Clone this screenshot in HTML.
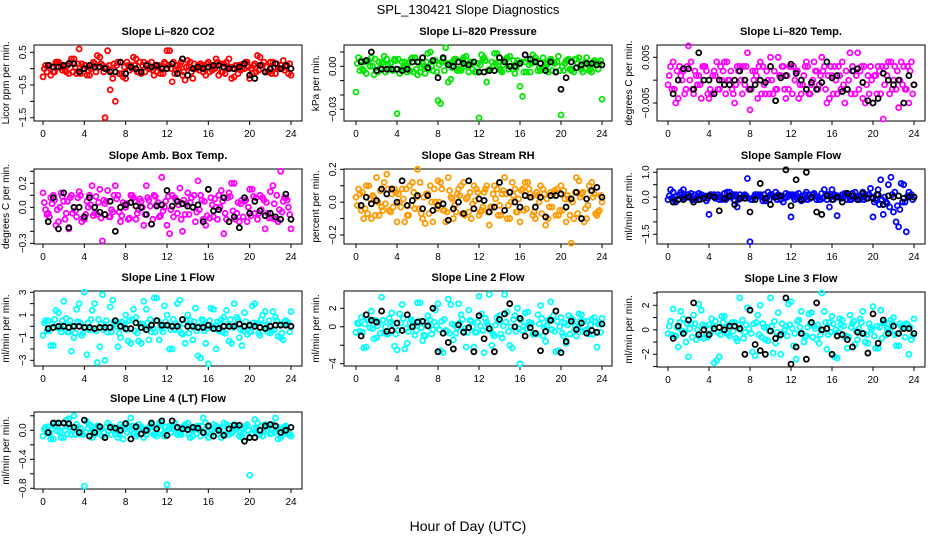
<!DOCTYPE html>
<html><head><meta charset="utf-8"><style>
body{margin:0;background:#fff}
svg{display:block;font-family:"Liberation Sans",sans-serif}
</style></head><body>
<svg id="c" width="936" height="540" viewBox="0 0 936 540">
<text x="468" y="14" text-anchor="middle" font-size="13">SPL_130421  Slope Diagnostics</text>
<text x="468" y="531" text-anchor="middle" font-size="14">Hour of Day (UTC)</text>
</svg>
<script>
const hrsA=[0,0.5,1,1.5,2,2.5,3,3.5,4,4.5,5,5.5,6,6.5,7,7.5,8,8.5,9,9.5,10,10.5,11,11.5,12,12.5,13,13.5,14,14.5,15,15.5,16,16.5,17,17.5,18,18.5,19,19.5,20,20.5,21,21.5,22,22.5,23,23.5,24];
const hrsB=[0.25,0.75,1.25,1.75,2.25,2.75,3.25,3.75,4.25,4.75,5.25,5.75,6.25,6.75,7.25,7.75,8.25,8.75,9.25,9.75,10.25,10.75,11.25,11.75,12.25,12.75,13.25,13.75,14.25,14.75,15.25,15.75,16.25,16.75,17.25,17.75,18.25,18.75,19.25,19.75,20.25,20.75,21.25,21.75,22.25,22.75,23.25,23.75];
const hrsC=[0.125,0.625,1.125,1.625,2.125,2.625,3.125,3.625,4.125,4.625,5.125,5.625,6.125,6.625,7.125,7.625,8.125,8.625,9.125,9.625,10.125,10.625,11.125,11.625,12.125,12.625,13.125,13.625,14.125,14.625,15.125,15.625,16.125,16.625,17.125,17.625,18.125,18.625,19.125,19.625,20.125,20.625,21.125,21.625,22.125,22.625,23.125,23.625];
const hrsD=[0.375,0.875,1.375,1.875,2.375,2.875,3.375,3.875,4.375,4.875,5.375,5.875,6.375,6.875,7.375,7.875,8.375,8.875,9.375,9.875,10.375,10.875,11.375,11.875,12.375,12.875,13.375,13.875,14.375,14.875,15.375,15.875,16.375,16.875,17.375,17.875,18.375,18.875,19.375,19.875,20.375,20.875,21.375,21.875,22.375,22.875,23.375,23.875];
const xTicks=[0,4,8,12,16,20,24];

const co2A=[-0.25,0.1,-0.1,0.2,0.05,-0.15,0.3,0.6,0.1,-0.2,0.15,0.35,-1.5,-0.65,-1.0,0.2,-0.3,0.1,0.3,-0.15,0.1,0.2,-0.1,0.05,0.55,-0.4,0.1,-0.2,0.25,-0.3,0.1,-0.1,0.2,0.05,-0.2,0.15,0.3,-0.25,0.1,0.0,-0.3,0.15,0.35,-0.1,0.2,-0.15,0.1,0.05,-0.2];
const co2B=[0.1,-0.2,0.2,0.05,-0.1,0.3,-0.15,0.15,-0.2,0.1,0.4,0.1,0.55,-0.3,0.2,-0.25,0.1,0.35,-0.1,0.2,0.0,-0.2,0.1,0.2,0.55,-0.15,0.1,-0.35,0.2,0.0,0.15,-0.2,0.1,0.3,-0.1,0.2,-0.3,0.1,0.0,0.2,-0.15,0.4,0.1,-0.1,0.2,0.0,0.25,-0.15];
const co2C=[0.0,0.1,-0.1,0.15,-0.05,0.2,0.05,-0.15,0.1,0.0,-0.1,0.15,0.05,-0.05,0.1,-0.15,0.2,0.0,-0.1,0.1,0.15,-0.05,0.05,-0.15,0.1,0.2,0.0,-0.1,0.05,0.15,-0.05,0.1,-0.1,0.0,0.15,-0.15,0.05,0.1,-0.05,0.2,0.0,-0.1,0.1,0.05,-0.15,0.15,0.0,0.1];
const co2D=[-0.1,0.05,0.2,-0.05,0.1,-0.1,0.15,0.0,-0.05,0.2,0.05,-0.1,0.1,0.15,-0.15,0.05,-0.05,0.1,0.2,-0.1,0.0,0.1,-0.15,0.15,0.0,-0.05,0.2,0.05,-0.1,0.0,0.1,0.15,-0.05,0.2,-0.1,0.05,0.0,-0.15,0.15,0.05,0.1,-0.05,0.2,-0.1,0.05,0.0,-0.05,0.15];
const co2K=[0.0,0.1,0.05,0.05,0.1,0.15,0.15,-0.1,0.0,0.1,0.05,0.05,0.0,-0.1,-0.1,0.2,-0.15,0.05,0.0,-0.1,0.1,0.05,0.1,0.0,0.0,0.15,-0.15,0.3,-0.2,0.0,0.05,0.0,0.05,0.1,0.1,0.05,0.0,0.0,0.05,0.15,-0.2,-0.3,0.1,-0.1,0.0,0.15,0.0,0.1,0.0];

const presA=[-0.018,0.004,-0.005,0.006,-0.003,0.002,0.005,-0.002,-0.033,0.003,-0.004,0.006,-0.006,0.002,0.009,-0.003,-0.024,0.005,-0.011,0.004,-0.002,0.006,-0.004,0.003,-0.036,0.006,-0.003,0.009,-0.002,0.004,0.007,-0.005,-0.014,0.003,-0.004,0.006,-0.003,0.002,0.005,-0.004,-0.034,0.004,-0.003,0.005,-0.002,0.006,-0.004,0.003,-0.023];
const presB=[0.006,-0.003,0.004,-0.006,0.003,0.007,-0.002,0.005,-0.005,0.003,-0.003,0.006,-0.004,-0.005,0.01,0.004,-0.026,0.013,-0.009,0.005,-0.003,0.007,0.002,-0.004,0.008,-0.011,0.003,0.009,-0.004,0.006,-0.002,0.004,-0.021,0.005,0.008,-0.003,0.006,-0.004,0.003,0.007,-0.003,0.005,-0.004,0.006,0.002,-0.003,0.004,0.002];
const presC=[0.002,-0.002,0.004,0.0,-0.004,0.003,0.001,-0.003,0.005,-0.001,0.002,-0.004,0.003,0.0,-0.002,0.004,0.001,-0.003,0.002,0.005,-0.002,0.0,0.003,-0.004,0.001,0.004,-0.002,0.002,-0.003,0.005,0.0,-0.001,0.003,-0.004,0.002,0.004,-0.002,0.001,-0.003,0.003,0.0,0.004,-0.002,0.002,-0.004,0.001,0.003,-0.002];
const presD=[-0.003,0.003,0.0,0.005,-0.001,-0.004,0.002,0.004,-0.002,0.001,0.005,-0.002,-0.001,0.003,0.0,-0.004,0.003,0.002,-0.001,-0.003,0.004,0.001,-0.002,0.002,0.005,-0.003,0.0,0.003,0.001,-0.002,0.004,0.002,-0.004,0.001,0.003,-0.001,0.0,0.004,0.002,-0.003,0.002,-0.002,0.005,0.0,0.003,-0.002,0.001,0.004];
const presK=[0.000,0.003,0.004,0.010,-0.003,-0.002,-0.002,-0.002,-0.002,-0.003,-0.002,0.003,0.003,0.006,-0.001,0.004,-0.008,0.006,0.001,0.000,0.003,0.002,0.001,0.003,-0.004,-0.004,-0.003,-0.003,0.006,0.003,0.000,0.000,0.002,0.008,0.005,0.003,0.002,-0.003,0.003,-0.004,-0.016,-0.008,0.003,-0.001,0.001,0.002,0.002,0.001,0.001];

const tempA=[-0.001,0.004,-0.004,0.002,0.0075,-0.003,0.001,0.003,-0.004,0.002,-0.002,0.004,0.0,-0.005,0.003,-0.001,-0.0065,0.002,0.004,-0.003,0.005,-0.002,0.001,-0.004,0.003,0.002,-0.003,0.004,-0.001,0.002,0.005,-0.005,0.001,-0.003,0.004,-0.002,0.003,0.006,-0.004,0.001,-0.005,0.003,-0.0085,0.004,0.0,-0.006,0.003,-0.005,-0.001];
const tempB=[0.003,-0.005,0.001,-0.002,0.004,0.001,-0.004,0.002,-0.003,0.004,0.0,0.004,-0.002,0.003,-0.003,0.006,0.002,-0.004,0.003,0.0,-0.003,0.005,0.003,-0.002,0.003,-0.004,0.001,-0.003,0.004,-0.001,0.003,-0.004,0.003,0.001,-0.005,0.006,-0.003,0.002,-0.005,0.003,0.001,-0.003,0.003,0.004,-0.002,0.004,-0.002,0.004];
const tempC=[0.001,-0.002,0.003,-0.003,0.0,0.002,-0.001,0.003,-0.002,0.001,0.003,-0.003,0.002,-0.001,0.0,0.003,-0.002,0.001,-0.003,0.002,0.0,-0.002,0.003,0.001,-0.003,0.002,-0.001,0.003,0.0,-0.002,0.002,0.001,-0.003,0.003,-0.001,0.0,0.002,-0.002,0.003,-0.003,0.001,0.002,-0.001,-0.003,0.003,0.0,-0.002,0.002];
const tempD=[-0.002,0.002,0.0,0.003,-0.002,-0.001,0.003,-0.003,0.001,-0.002,0.002,0.0,-0.003,0.002,0.003,-0.002,0.0,0.003,-0.001,-0.003,0.002,0.001,-0.002,0.003,0.0,-0.001,0.003,-0.003,0.002,0.001,-0.002,0.003,0.0,-0.002,0.002,-0.003,0.001,0.003,-0.001,0.0,-0.003,0.003,0.001,-0.002,0.002,-0.001,0.003,-0.003];
const tempK=[0.0,-0.003,0.0,0.0025,0.0025,-0.002,0.006,0.0,0.0,-0.003,0.0,-0.001,-0.001,0.0,0.002,0.0,-0.002,-0.001,0.0,-0.0005,0.003,-0.0045,0.0005,0.001,0.0035,0.0015,0.0,-0.002,-0.0005,-0.002,-0.0005,0.004,0.0005,0.001,-0.0025,-0.002,0.002,0.0025,-0.0005,-0.0045,-0.005,-0.004,0.0015,0.0,-0.001,0.0,-0.005,0.001,-0.001];

const boxA=[0.12,-0.05,0.1,-0.12,0.05,-0.18,0.0,0.13,-0.1,0.1,-0.05,0.15,0.03,-0.08,0.18,-0.12,0.0,0.1,-0.1,0.05,0.18,-0.14,0.02,0.25,-0.15,0.1,-0.05,-0.2,0.12,0.0,0.22,-0.1,0.15,-0.08,0.1,-0.22,0.12,0.2,-0.12,0.05,0.15,-0.05,0.1,-0.18,0.13,-0.1,0.3,0.08,-0.18];
const boxB=[-0.02,0.08,-0.15,0.12,-0.05,0.1,-0.08,-0.12,0.05,0.18,-0.06,-0.28,0.14,-0.04,0.1,0.04,-0.1,0.08,-0.02,-0.15,0.06,0.1,-0.08,0.0,-0.22,0.08,0.16,-0.06,0.04,-0.12,0.1,-0.15,0.08,0.0,0.14,-0.1,0.2,-0.05,0.06,-0.12,0.15,-0.1,0.08,-0.05,0.18,-0.12,0.05,0.0];
const boxC=[0.04,-0.08,0.06,0.0,-0.1,0.08,-0.03,0.1,-0.06,0.02,0.09,-0.09,0.05,-0.02,0.07,-0.07,0.03,0.1,-0.05,0.0,0.08,-0.1,0.04,-0.03,0.09,-0.08,0.02,0.06,-0.06,0.1,-0.02,0.05,-0.09,0.07,0.0,-0.05,0.09,-0.1,0.03,0.06,-0.07,0.08,-0.02,0.04,-0.09,0.1,-0.04,0.06];
const boxD=[-0.06,0.03,-0.02,0.09,0.05,-0.05,0.08,-0.09,0.0,-0.07,0.04,0.06,-0.08,0.1,-0.04,0.02,-0.09,0.05,0.07,-0.06,0.01,0.09,-0.07,0.05,-0.02,0.06,-0.1,0.03,0.08,-0.04,0.06,-0.07,0.02,-0.1,0.05,0.08,-0.03,0.04,-0.08,0.0,0.09,-0.05,0.06,-0.09,0.03,-0.02,0.08,-0.06];
const boxK=[0.0,-0.12,0.08,-0.18,0.12,-0.17,0.0,0.0,-0.08,0.08,0.0,-0.04,-0.06,0.05,-0.2,0.0,0.02,0.04,0.01,0.0,-0.06,-0.14,0.01,0.02,0.14,0.01,0.05,0.03,0.01,0.0,0.02,-0.12,0.15,-0.03,-0.02,0.08,-0.12,-0.08,-0.17,0.08,-0.05,0.05,-0.03,-0.07,-0.05,-0.08,-0.1,0.11,-0.1];

const rhA=[0.03,-0.05,0.1,-0.1,0.15,-0.03,0.17,0.05,-0.12,0.08,-0.08,0.12,0.2,-0.1,0.05,-0.12,0.13,-0.05,0.15,-0.1,0.08,0.12,-0.06,0.1,-0.08,0.06,-0.14,0.1,-0.02,0.15,-0.1,0.08,-0.12,0.12,0.05,-0.1,0.1,-0.14,0.06,-0.08,0.1,-0.12,-0.25,0.15,0.05,-0.1,0.12,-0.08,0.0];
const rhB=[0.08,-0.1,0.1,0.03,-0.08,0.12,-0.05,0.08,0.0,-0.12,0.1,-0.04,0.12,-0.13,0.1,0.0,0.12,-0.12,0.03,-0.06,0.1,0.02,-0.1,0.08,-0.05,0.1,-0.03,0.08,0.05,-0.1,0.12,-0.06,0.08,0.12,-0.08,0.04,0.08,-0.1,0.05,-0.08,0.07,0.02,-0.1,0.13,-0.12,0.1,0.05,-0.05];
const rhC=[-0.02,0.06,-0.07,0.04,0.0,-0.05,0.08,-0.03,0.05,0.02,-0.08,0.06,-0.04,0.03,-0.07,0.08,0.0,-0.05,0.07,-0.02,0.04,-0.08,0.06,0.01,-0.06,0.08,-0.03,0.02,-0.08,0.05,0.0,-0.06,0.07,-0.04,0.03,0.06,-0.07,0.02,-0.03,0.08,-0.05,0.04,0.0,-0.07,0.06,-0.02,0.03,-0.06];
const rhD=[0.05,-0.04,0.02,-0.08,0.07,-0.01,-0.06,0.06,-0.03,0.08,-0.02,0.03,-0.07,0.05,0.0,-0.04,0.08,-0.06,0.02,0.05,-0.07,0.03,-0.01,0.06,-0.03,-0.06,0.05,-0.08,0.07,-0.02,0.04,0.02,-0.05,0.08,-0.06,0.0,0.05,-0.03,0.07,-0.05,0.02,-0.08,0.06,0.03,-0.04,0.07,-0.07,0.04];
const rhK=[0.0,-0.02,0.03,-0.01,0.01,0.08,0.05,0.08,0.0,0.13,-0.02,0.01,0.04,-0.04,0.04,-0.05,-0.02,-0.01,-0.11,-0.04,0.0,-0.07,0.13,-0.04,0.02,0.01,-0.06,-0.03,0.12,-0.05,0.06,0.0,-0.03,0.04,0.03,-0.03,0.03,-0.09,0.04,0.04,0.05,-0.03,0.02,0.06,-0.1,0.02,0.07,0.09,0.03];

const sfA=[-0.1,0.2,-0.1,0.3,0.1,-0.1,0.15,0.0,-0.7,0.1,-0.1,0.15,0.2,-0.15,0.1,0.1,-1.8,0.1,0.1,-0.15,0.1,0.2,-0.1,0.15,-0.8,0.1,-0.15,0.2,0.0,-0.1,0.15,-0.1,0.3,-0.75,0.1,-0.1,0.15,-0.1,0.2,0.1,-0.8,0.3,-0.7,0.5,-0.6,-1.2,0.5,0.2,0.0];
const sfB=[0.3,-0.2,0.2,0.0,0.15,-0.1,0.1,-0.15,0.1,0.0,-0.1,0.2,0.1,-0.4,0.0,0.75,-0.1,0.1,-0.15,0.2,0.05,0.1,-0.2,0.1,0.0,0.15,-0.1,0.1,0.15,-0.1,0.3,-0.4,0.1,0.0,0.15,-0.1,0.2,-0.1,0.1,0.35,-0.1,0.7,-0.2,0.8,-1.0,0.55,-1.4,0.1];
const sfC=[0.05,-0.1,0.1,-0.05,0.0,0.1,-0.1,0.05,0.1,-0.05,0.05,-0.1,0.0,0.1,-0.05,0.05,-0.1,0.1,0.0,-0.05,0.1,-0.1,0.05,0.0,0.1,-0.05,0.05,-0.1,0.1,0.0,-0.05,0.1,-0.1,0.05,0.0,0.1,-0.05,0.05,-0.1,0.1,-0.2,-0.3,0.0,-0.4,0.2,-0.5,-0.2,0.05];
const sfD=[-0.05,0.05,0.0,0.1,-0.1,0.05,0.0,-0.05,0.05,0.1,-0.05,0.0,0.1,-0.1,0.05,-0.05,0.0,0.05,0.1,-0.1,0.0,0.05,-0.05,0.1,-0.1,0.0,0.1,-0.05,0.05,-0.1,0.1,0.0,0.05,-0.05,0.1,-0.1,0.0,0.05,-0.05,0.0,0.1,-0.1,-0.25,0.1,-0.35,-0.2,0.05,-0.1];
const sfK=[0.0,-0.2,-0.1,-0.1,0.0,-0.2,-0.1,-0.05,0.05,0.0,-0.55,-0.05,0.05,-0.3,-0.05,-0.05,-0.6,-0.1,0.55,-0.05,-0.3,0.0,0.05,1.1,-0.35,0.7,-0.1,1.0,0.0,-0.6,-0.7,0.05,-0.1,0.0,-0.2,0.15,0.05,-0.1,0.15,-0.05,-0.05,0.1,-0.3,0.05,0.0,0.05,-0.05,0.0,0.0];

const l1A=[-0.8,0.5,-1.7,1.2,2.2,-0.5,-1.0,2.0,3.0,-0.3,2.0,-1.8,-3.0,1.7,0.2,-1.0,1.0,-1.5,0.8,-1.5,1.5,-0.5,2.5,-0.2,1.0,-2.0,2.0,-0.7,1.0,-1.2,-2.6,0.5,-3.3,1.5,-0.4,0.8,-1.3,2.0,-1.0,1.2,-0.5,2.0,-0.8,1.3,-0.6,0.8,-1.0,0.5,1.3];
const l1B=[0.5,-1.7,1.4,-0.5,0.7,-2.2,1.5,-0.8,-2.5,1.4,-3.2,2.8,-0.5,2.3,-1.8,0.3,-1.3,1.5,-1.3,2.2,-1.2,2.5,-1.2,1.8,-2.0,-0.3,2.3,-1.5,0.5,1.6,-2.8,-1.5,1.6,-2.0,0.6,1.4,-1.5,0.8,-1.7,-0.7,1.8,0.3,1.0,-0.5,1.3,-0.9,-1.2,0.3];
const l1C=[0.3,-0.4,0.6,-0.2,0.1,0.5,-0.6,0.3,-0.1,0.6,-0.4,0.2,0.5,-0.5,0.0,0.4,-0.3,0.6,-0.6,0.2,0.3,-0.2,0.5,-0.5,0.1,0.6,-0.3,0.2,-0.6,0.4,0.0,-0.4,0.5,-0.2,0.3,-0.6,0.6,0.1,-0.3,0.4,-0.5,0.2,0.6,-0.1,-0.4,0.5,-0.6,0.2];
const l1D=[-0.4,0.2,-0.1,0.5,-0.5,0.0,0.4,-0.6,0.3,-0.2,0.6,-0.3,-0.1,0.4,-0.6,0.1,0.5,-0.4,0.2,-0.1,0.6,-0.5,0.0,0.4,-0.3,0.2,-0.6,0.5,0.1,-0.4,0.6,-0.2,0.0,0.4,-0.5,0.2,-0.1,0.6,-0.4,0.0,0.3,-0.6,0.1,0.5,-0.3,0.2,0.4,-0.5];
const l1K=[0.0,-0.2,-0.1,0.0,0.0,-0.1,0.0,0.0,-0.1,-0.1,-0.2,-0.1,-0.1,-0.1,0.5,0.0,-0.2,-0.2,0.3,-0.1,-0.3,0.1,0.5,0.1,0.1,0.0,0.0,0.6,0.0,0.0,-0.1,-0.1,0.1,-0.2,-0.2,0.0,0.0,0.0,0.2,0.0,0.1,0.0,-0.1,-0.2,0.0,0.1,0.1,0.1,0.0];

const l2A=[-0.6,1.0,-2.2,1.7,-1.2,3.2,-0.8,1.5,-2.5,2.4,-1.8,0.6,2.6,-1.5,1.2,-0.3,2.5,-2.8,3.0,-1.4,2.5,-0.5,1.8,-2.2,3.3,-2.8,3.5,-1.0,1.2,3.5,-2.0,1.2,-4.0,1.5,0.3,-0.7,2.3,-1.6,2.7,-2.7,1.0,-1.8,0.9,-1.0,1.3,-0.3,0.8,-2.2,0.9];
const l2B=[0.3,-2.3,0.8,-1.3,0.5,-0.6,0.9,-2.1,1.4,-2.4,0.4,-0.9,2.6,-1.0,0.7,1.8,-2.6,-0.4,2.4,-0.7,1.3,-2.2,0.6,-0.6,1.4,0.5,-2.0,1.0,-1.2,1.6,-2.3,2.0,-0.4,1.6,-0.8,1.3,-1.0,0.7,1.2,-2.6,-1.0,1.2,-0.5,1.4,0.6,-0.8,1.0,0.3];
const l2C=[0.4,-0.6,0.8,-0.2,0.1,0.7,-0.8,0.3,-0.4,0.9,-0.5,0.2,0.6,-0.9,0.0,0.5,-0.3,0.8,-0.7,0.2,0.4,-0.2,0.7,-0.6,0.1,0.9,-0.4,0.2,-0.8,0.5,0.0,-0.5,0.7,-0.2,0.4,-0.8,0.9,0.1,-0.3,0.6,-0.7,0.2,0.8,-0.1,-0.5,0.6,-0.8,0.3];
const l2D=[-0.5,0.3,-0.1,0.7,-0.7,0.0,0.5,-0.8,0.4,-0.2,0.8,-0.4,-0.1,0.5,-0.8,0.1,0.6,-0.5,0.3,-0.1,0.8,-0.6,0.0,0.5,-0.4,0.2,-0.8,0.6,0.1,-0.5,0.8,-0.2,0.0,0.5,-0.7,0.3,-0.1,0.8,-0.5,0.0,0.4,-0.8,0.1,0.6,-0.4,0.2,0.5,-0.6];
const l2K=[0.0,-1.0,1.3,0.7,0.5,1.7,-0.5,-0.4,0.4,-0.4,1.3,0.0,0.5,0.6,0.1,2.0,-2.7,-0.7,-1.7,-2.4,0.2,-0.6,-0.1,-2.7,1.2,-1.3,-0.2,-2.7,0.8,1.4,2.5,0.0,0.9,-1.0,-0.1,-0.7,-2.6,-0.5,0.7,1.7,-2.8,-1.6,0.6,-0.3,0.4,-0.7,-0.4,-0.6,0.3];

const l3A=[-0.3,1.7,-1.4,0.9,-2.2,1.2,2.1,-0.7,0.4,-2.7,-2.2,1.1,-0.5,0.6,2.6,-0.2,1.6,-2.1,2.0,-0.8,2.6,-1.1,-2.0,0.3,2.3,-2.4,1.5,-0.5,1.4,-0.8,3.0,-1.6,1.1,-2.3,0.8,-1.5,0.5,-0.8,1.5,-1.1,1.9,-1.5,0.6,0.1,1.0,-1.3,0.3,-2.0,0.9];
const l3B=[0.7,-0.5,1.5,-1.0,0.5,-0.8,1.6,-0.4,0.9,-2.5,1.1,-0.3,0.6,-0.9,0.8,1.8,-1.8,1.2,0.5,-0.9,-1.9,1.4,-0.3,2.1,-1.3,0.8,-1.0,1.3,0.3,-1.1,1.5,0.6,-2.2,0.9,-0.6,1.2,-1.2,0.9,-1.0,0.2,-1.5,1.6,-0.4,0.8,-1.3,0.3,0.5,-0.8];
const l3C=[0.3,-0.5,0.6,-0.2,0.1,0.5,-0.6,0.3,-0.3,0.7,-0.4,0.2,0.5,-0.7,0.0,0.4,-0.3,0.6,-0.6,0.2,0.3,-0.2,0.5,-0.5,0.1,0.7,-0.3,0.2,-0.6,0.4,0.0,-0.4,0.5,-0.2,0.3,-0.6,0.7,0.1,-0.3,0.5,-0.5,0.2,0.6,-0.1,-0.4,0.5,-0.6,0.2];
const l3D=[-0.4,0.2,-0.1,0.5,-0.6,0.0,0.4,-0.6,0.3,-0.2,0.6,-0.3,-0.1,0.4,-0.7,0.1,0.5,-0.4,0.2,-0.1,0.7,-0.5,0.0,0.4,-0.3,0.2,-0.6,0.5,0.1,-0.4,0.6,-0.2,0.0,0.4,-0.5,0.2,-0.1,0.6,-0.4,0.0,0.3,-0.7,0.1,0.5,-0.3,0.2,0.4,-0.5];
const l3K=[0.0,-0.7,0.3,-0.3,0.8,2.2,-0.4,0.0,-0.4,0.1,0.2,0.0,0.3,0.3,0.1,-2.0,1.6,-1.2,-1.7,-2.0,-0.1,-0.7,-0.4,2.6,-2.8,-1.4,-0.3,-2.4,0.6,2.2,0.0,0.1,-2.0,-0.5,-0.4,-0.8,-1.4,-0.2,-0.3,-1.9,1.3,-1.1,0.8,-0.3,0.3,-0.3,0.1,0.1,-0.3];

const l4A=[-0.08,0.05,-0.12,0.1,-0.1,0.16,0.2,-0.05,-0.77,0.08,-0.06,0.04,-0.1,0.06,-0.05,0.08,0.1,0.17,-0.08,0.05,-0.06,0.08,-0.08,0.1,-0.75,0.07,-0.06,0.05,0.1,-0.08,0.06,0.17,-0.1,0.08,-0.05,0.1,-0.06,0.08,-0.08,0.05,-0.62,0.15,-0.06,0.08,-0.05,0.17,-0.1,0.06,-0.08];
const l4B=[0.04,-0.12,0.1,-0.1,0.14,-0.06,0.08,-0.04,0.12,-0.1,0.06,-0.08,0.1,0.04,-0.1,-0.12,0.06,-0.04,0.08,-0.1,0.04,-0.06,0.1,-0.08,0.06,0.1,-0.05,0.08,-0.1,0.05,-0.08,0.1,-0.06,0.06,-0.1,0.08,-0.04,0.05,-0.1,0.08,-0.05,0.1,-0.08,0.06,0.08,-0.12,0.04,-0.06];
const l4C=[0.02,-0.04,0.06,-0.02,0.0,0.05,-0.06,0.03,-0.03,0.06,-0.04,0.02,0.05,-0.06,0.0,0.04,-0.03,0.06,-0.05,0.02,0.03,-0.02,0.05,-0.05,0.01,0.06,-0.03,0.02,-0.06,0.04,0.0,-0.04,0.05,-0.02,0.03,-0.06,0.06,0.01,-0.03,0.05,-0.05,0.02,0.06,-0.01,-0.04,0.05,-0.06,0.02];
const l4D=[-0.04,0.02,-0.01,0.05,-0.05,0.0,0.04,-0.06,0.03,-0.02,0.06,-0.03,-0.01,0.04,-0.06,0.01,0.05,-0.04,0.02,-0.01,0.06,-0.05,0.0,0.04,-0.03,0.02,-0.06,0.05,0.01,-0.04,0.06,-0.02,0.0,0.04,-0.05,0.02,-0.01,0.06,-0.04,0.0,0.03,-0.06,0.01,0.05,-0.03,0.02,0.04,-0.05];
const l4K=[0.0,-0.03,0.1,0.1,0.1,0.09,0.04,-0.03,0.14,-0.08,-0.03,0.05,-0.1,0.04,0.03,0.0,0.09,-0.12,0.05,-0.05,0.0,0.1,0.02,0.13,-0.07,0.13,0.04,0.02,0.01,0.04,0.03,-0.03,0.06,-0.08,0.0,-0.07,0.02,0.07,0.07,-0.15,-0.1,-0.1,0.0,0.06,0.08,0.06,-0.03,0.0,0.04];

const co2Ticks=[0.5,0,-0.5,-1,-1.5], co2Labels=["0.5","","−0.5","","−1.5"];
const presTicks=[0.01,0,-0.01,-0.02,-0.03], presLabels=["","0.00","","","−0.03"];
const tempTicks=[0.005,0,-0.005], tempLabels=["0.005","","−0.005"];
const boxTicks=[0.3,0.2,0.1,0,-0.1,-0.2,-0.3], boxLabels=["","0.2","","0.0","","","−0.3"];
const rhTicks=[0.2,0.1,0,-0.1,-0.2], rhLabels=["0.2","","0.0","","−0.2"];
const sfTicks=[1,0.5,0,-0.5,-1,-1.5], sfLabels=["1.0","","0.0","","","−1.5"];
const l1Ticks=[3,2,1,0,-1,-2,-3], l1Labels=["3","","1","","−1","","−3"];
const l2Ticks=[2,0,-2,-4], l2Labels=["2","0","","−4"];
const l3Ticks=[3,2,1,0,-1,-2,-3], l3Labels=["","2","","0","","−2",""];
const l4Ticks=[0.2,0,-0.2,-0.4,-0.6,-0.8], l4Labels=["","0.0","","−0.4","","−0.8"];

const C1={bx0:34,bx1:302,h0:43,h24:291}, C2={bx0:344,bx1:612,h0:356,h24:602}, C3={bx0:657,bx1:925,h0:668,h24:914};
const panels=[
 {id:"co2",title:"Slope Li\u2013820 CO2",ylab:"Licor ppm per min.",col:C1,by0:45,by1:121,v1:0.5,p1:52.3,v2:-1.5,p2:117.7,color:"#ff0000",A:co2A,B:co2B,C:co2C,D:co2D,K:co2K,ticks:co2Ticks,labels:co2Labels},
 {id:"pressure",title:"Slope Li\u2013820 Pressure",ylab:"kPa per min.",col:C2,by0:45,by1:121,v1:0,p1:66.3,v2:-0.03,p2:109.3,color:"#00e600",A:presA,B:presB,C:presC,D:presD,K:presK,ticks:presTicks,labels:presLabels},
 {id:"temp",title:"Slope Li\u2013820 Temp.",ylab:"degrees C per min.",col:C3,by0:45,by1:121,v1:0.005,p1:57.3,v2:-0.005,p2:103,color:"#ff00ff",A:tempA,B:tempB,C:tempC,D:tempD,K:tempK,ticks:tempTicks,labels:tempLabels},
 {id:"amb-box-temp",title:"Slope Amb. Box Temp.",ylab:"degrees C per min.",col:C1,by0:169,by1:244,v1:0.2,p1:183.3,v2:-0.3,p2:243.3,color:"#ff00ff",A:boxA,B:boxB,C:boxC,D:boxD,K:boxK,ticks:boxTicks,labels:boxLabels},
 {id:"gas-stream-rh",title:"Slope Gas Stream RH",ylab:"percent per min.",col:C2,by0:169,by1:244,v1:0.2,p1:169.3,v2:-0.2,p2:235,color:"#ff9900",A:rhA,B:rhB,C:rhC,D:rhD,K:rhK,ticks:rhTicks,labels:rhLabels},
 {id:"sample-flow",title:"Slope Sample Flow",ylab:"ml/min per min.",col:C3,by0:169,by1:244,v1:1,p1:172.3,v2:-1.5,p2:234.3,color:"#0000ff",A:sfA,B:sfB,C:sfC,D:sfD,K:sfK,ticks:sfTicks,labels:sfLabels},
 {id:"line1-flow",title:"Slope Line 1 Flow",ylab:"ml/min per min.",col:C1,by0:291,by1:366,v1:3,p1:292.3,v2:-3,p2:360.3,color:"#00ffff",A:l1A,B:l1B,C:l1C,D:l1D,K:l1K,ticks:l1Ticks,labels:l1Labels},
 {id:"line2-flow",title:"Slope Line 2 Flow",ylab:"ml/min per min.",col:C2,by0:291,by1:366,v1:2,p1:308.3,v2:-4,p2:363.7,color:"#00ffff",A:l2A,B:l2B,C:l2C,D:l2D,K:l2K,ticks:l2Ticks,labels:l2Labels},
 {id:"line3-flow",title:"Slope Line 3 Flow",ylab:"ml/min per min.",col:C3,by0:292,by1:367,v1:2,p1:305.3,v2:-2,p2:354.3,color:"#00ffff",A:l3A,B:l3B,C:l3C,D:l3D,K:l3K,ticks:l3Ticks,labels:l3Labels},
 {id:"line4-flow",title:"Slope Line 4 (LT) Flow",ylab:"ml/min per min.",col:C1,by0:412,by1:489,v1:0,p1:430.3,v2:-0.8,p2:488.3,color:"#00ffff",A:l4A,B:l4B,C:l4C,D:l4D,K:l4K,ticks:l4Ticks,labels:l4Labels}
];
const NS="http://www.w3.org/2000/svg", svg=document.getElementById("c");
function mk(tag,attrs,parent){const e=document.createElementNS(NS,tag);for(const k in attrs)e.setAttribute(k,attrs[k]);(parent||svg).appendChild(e);return e;}
panels.forEach(p=>{
 const g=mk("g",{});
 
 
 const c=p.col;
 const xs=h=>c.h0+(c.h24-c.h0)*h/24;
 const ys=v=>p.p1+(v-p.v1)*(p.p2-p.p1)/(p.v2-p.v1);
 const cx=(c.bx0+c.bx1)/2, cy=(p.by0+p.by1)/2;
 const t=mk("text",{x:cx,y:p.by0-10,"text-anchor":"middle","font-size":11,"font-weight":"bold"},g);t.textContent=p.title;
 
 
 const yl=mk("text",{x:0,y:0,transform:`translate(${c.bx0-25},${cy}) rotate(-90)`,"text-anchor":"middle","font-size":10},g);yl.textContent=p.ylab;
 
 
 const bx=mk("rect",{x:c.bx0,y:p.by0,width:c.bx1-c.bx0,height:p.by1-p.by0,fill:"none",stroke:"#000","stroke-width":1},g);
 
 
 const xa=mk("g",{},g);
 
 
 mk("line",{x1:xs(xTicks[0]),x2:xs(xTicks[xTicks.length-1]),y1:p.by1,y2:p.by1,stroke:"#000"},xa);
 xTicks.forEach(h=>{mk("line",{x1:xs(h),x2:xs(h),y1:p.by1,y2:p.by1+4,stroke:"#000"},xa);
  const tl=mk("text",{x:xs(h),y:p.by1+16,"text-anchor":"middle","font-size":10},xa);tl.textContent=h;});
 const ya=mk("g",{},g);
 
 
 mk("line",{x1:c.bx0,x2:c.bx0,y1:ys(p.ticks[0]),y2:ys(p.ticks[p.ticks.length-1]),stroke:"#000"},ya);
 p.ticks.forEach((v,i)=>{mk("line",{x1:c.bx0-4,x2:c.bx0,y1:ys(v),y2:ys(v),stroke:"#000"},ya);
  if(p.labels[i]){const tl=mk("text",{x:0,y:0,transform:`translate(${c.bx0-8},${ys(v)}) rotate(-90)`,"text-anchor":"middle","font-size":10},ya);tl.textContent=p.labels[i];}});
 const sc=mk("g",{fill:"none",stroke:p.color,"stroke-width":1.8},g);
 
 
 [[p.C,hrsC],[p.D,hrsD],[p.A,hrsA],[p.B,hrsB]].forEach(([arr,hr])=>{
  arr.forEach((v,i)=>{const d=mk("circle",{cx:xs(hr[i]),cy:ys(v),r:2.5},sc);
   
   });
 });
 const bk=mk("g",{fill:"none",stroke:"#000","stroke-width":1.8},g);
 
 
 p.K.forEach((v,i)=>{if(i===0)return;const d=mk("circle",{cx:xs(hrsA[i]),cy:ys(v),r:2.5},bk);
  
  });
});
</script>
</body></html>
